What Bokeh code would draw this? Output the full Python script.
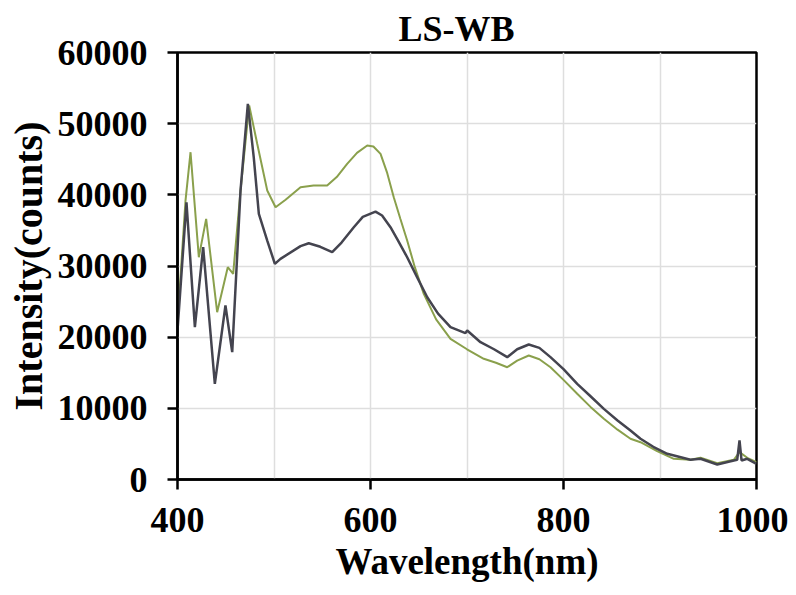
from bokeh.plotting import figure
from bokeh.models import FixedTicker, Range1d
from bokeh.embed import file_html
from bokeh.resources import INLINE

# ---- data ----
wl_dark = [400, 409.3, 418, 426.6, 438.7, 449.7, 456.7, 465.3, 472.9, 479, 484.3, 493, 500.9,
           506.7, 527.5, 536, 548, 560.3, 570, 582.7, 592, 605.2, 612, 620.7, 628, 638, 648,
           658.8, 670, 682.9, 698.4, 700.2, 714, 728, 741.7, 752, 764, 775, 786.5, 800, 814.2,
           828, 841.8, 856, 869.4, 879.8, 893, 907.5, 931.6, 942, 959.3,
           976.5, 980, 982.4, 984.5, 990.4, 1000]
int_dark = [20900, 38960, 21400, 32640, 13440, 24450, 17890, 40600, 52790, 45300, 37330, 33580, 30300,
            31000, 32800, 33200, 32700, 31940, 33300, 35450, 36900, 37650, 37100, 35450, 33700, 31230, 28500,
            25610, 23300, 21400, 20560, 20930, 19290, 18300, 17190, 18300, 18970, 18500, 17190, 15500, 13440,
            11700, 9930, 8300, 6880, 5720, 4600, 3610, 2770, 2910, 2110,
            2670, 2770, 5480, 2670, 2910, 2200]

wl_green = [400, 408.3, 413.5, 422.1, 429.7, 441.1, 452.1, 457.7, 465.3, 474.3, 482.6, 493, 501.6,
            512, 527.5, 541, 555.1, 565, 575.8, 586, 596.6, 603, 610.4, 617, 624.1, 631, 638, 646,
            655.2, 668, 682.9, 700, 717.4, 730, 741.7, 752, 764, 775,
            786.5, 800, 814.2, 828, 841.8, 856, 869.4, 879.8, 897, 914.3, 931.6, 942, 959.3,
            976.5, 982.4, 990.4, 1000]
int_green = [22000, 39200, 45990, 31230, 36630, 23510, 29830, 28900, 40600, 52550, 47170, 40600, 38260,
             39300, 41070, 41300, 41310, 42500, 44360, 45900, 46930, 46800, 45760, 43200, 39660, 36600, 33580, 29800,
             26090, 22500, 19770, 18300, 16960, 16400, 15780, 16700, 17420, 16900,
             15780, 14000, 12040, 10200, 8530, 7000, 5720, 5240, 4000, 2910, 2770, 3050, 2300,
             2770, 3840, 3050, 2440]

x_ticks = [400, 600, 800, 1000]
x_grid_lines = [500, 600, 700, 800, 900]
y_ticks = [0, 10000, 20000, 30000, 40000, 50000, 60000]

FONT = "Liberation Serif"

p = figure(width=788, height=595, output_backend="svg", toolbar_location=None,
           x_range=Range1d(400, 1000), y_range=Range1d(0, 60000),
           min_border_left=177, min_border_right=32, min_border_top=52,
           min_border_bottom=116)

p.title.text = "LS-WB"
p.title.align = "left"
p.title.offset = 221
p.title.text_font = FONT
p.title.text_font_size = "36px"
p.title.text_font_style = "bold"
p.title.text_color = "black"
p.title.standoff = 8

p.line(wl_green, int_green, line_color="#8aa04c", line_width=2)
p.line(wl_dark, int_dark, line_color="#44444f", line_width=2.5)

p.xaxis.ticker = FixedTicker(ticks=x_ticks)
p.yaxis.ticker = FixedTicker(ticks=y_ticks)
p.xgrid.ticker = FixedTicker(ticks=x_grid_lines)
p.xgrid.grid_line_color = "#dedede"
p.ygrid.grid_line_color = "#dedede"
p.xgrid.grid_line_width = 1.5
p.ygrid.grid_line_width = 1.5

for ax in (p.xaxis[0], p.yaxis[0]):
    ax.axis_line_color = "black"
    ax.axis_line_width = 2.5
    ax.major_tick_line_color = "black"
    ax.major_tick_line_width = 2.5
    ax.major_tick_out = 10
    ax.major_tick_in = 0
    ax.minor_tick_line_color = None
    ax.major_label_text_font = FONT
    ax.major_label_text_font_size = "36px"
    ax.major_label_text_font_style = "bold"
    ax.major_label_text_color = "black"
    ax.axis_label_text_font = FONT
    ax.axis_label_text_font_style = "bold"
    ax.axis_label_text_color = "black"

p.xaxis.axis_label = "Wavelength(nm)"
p.xaxis.axis_label_text_font_size = "37px"
p.xaxis.major_label_standoff = 18
p.xaxis.axis_label_standoff = 6
p.yaxis.axis_label = "Intensity(counts)"
p.yaxis.axis_label_text_font_size = "40px"
p.yaxis.major_label_standoff = 20
p.yaxis.axis_label_standoff = 4

p.outline_line_color = "black"
p.outline_line_width = 2.5
p.outline_line_alpha = 1.0
p.background_fill_color = "white"
p.border_fill_color = "white"

open("out.html", "w").write(file_html(p, INLINE))
